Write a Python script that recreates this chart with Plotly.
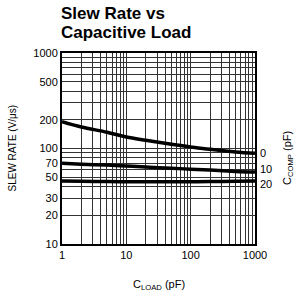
import math
import plotly.graph_objects as go

c_load = [1, 2, 5, 10, 20, 50, 100, 200, 500, 1000]
sr_c0 = [191, 168, 148, 132, 122, 111, 104, 98, 92, 89]
sr_c10 = [70, 68.5, 67, 65.5, 64, 62, 60.8, 59.5, 57.5, 56.6]
sr_c20 = [45.7, 45.3, 45, 44.8, 44.8, 44.8, 44.9, 45.1, 45.4, 45.7]
comp_labels = ["0", "10", "20"]
comp_label_pos = [89, 61, 43]
y_tick_vals = [10, 20, 30, 50, 70, 100, 200, 500, 1000]
x_tick_vals = [1, 10, 100, 1000]
title_lines = ["Slew Rate vs", "Capacitive Load"]

font = "Liberation Sans, Arial, sans-serif"

xgrid = [m * 10 ** d for d in range(3) for m in range(1, 10)] + [1000]
ygrid = [m * 10 ** d for d in range(1, 3) for m in range(1, 10)] + [1000]

fig = go.Figure()
for ys in (sr_c0, sr_c10, sr_c20):
    fig.add_trace(go.Scatter(x=c_load, y=ys, mode="lines",
                             line=dict(color="black", width=3.5, shape="spline"),
                             hoverinfo="skip", showlegend=False))

common = dict(type="log", showgrid=True, gridcolor="#333", gridwidth=1,
              showline=True, linecolor="black", linewidth=2, mirror=True,
              ticks="", tickfont=dict(family=font, size=11, color="black"),
              zeroline=False, automargin=False, fixedrange=True)
fig.update_xaxes(range=[0, 3], tickvals=xgrid,
                 ticktext=[str(v) if v in x_tick_vals else "" for v in xgrid], **common)
fig.update_yaxes(range=[1, 3], tickvals=ygrid,
                 ticktext=[str(v) if v in y_tick_vals else "" for v in ygrid], **common)

anns = [
    dict(x=0.5, y=0, xref="paper", yref="paper", yanchor="middle", yshift=-41,
         text="C<sub>LOAD</sub> (pF)",
         showarrow=False, font=dict(family=font, size=11, color="black")),
    dict(x=0, y=0.5, xref="paper", yref="paper", xanchor="center", xshift=-50,
         text="SLEW RATE (V/μs)",
         textangle=-90, showarrow=False, font=dict(family=font, size=10, color="black")),
    dict(x=1, y=0.45, xref="paper", yref="paper", xanchor="center", xshift=33,
         text="C<sub>COMP</sub> (pF)",
         textangle=-90, showarrow=False, font=dict(family=font, size=11, color="black")),
]
for line, shift in zip(title_lines, [39.5, 21]):
    anns.append(dict(x=0, y=1, xref="paper", yref="paper", xanchor="left",
                     yanchor="middle", xshift=-3, yshift=shift,
                     text="<b>" + line + "</b>", showarrow=False,
                     font=dict(family=font, size=17, color="black")))
for lab, yv in zip(comp_labels, comp_label_pos):
    anns.append(dict(x=1, y=math.log10(yv), xref="paper", yref="y",
                     text=lab, showarrow=False, xanchor="left", xshift=3,
                     font=dict(family=font, size=11, color="black")))

fig.update_layout(
    width=297, height=298,
    margin=dict(l=62, r=42, t=53, b=54),
    paper_bgcolor="white", plot_bgcolor="white",
    annotations=anns,
)
fig.write_html("out.html", config={"displayModeBar": False, "staticPlot": True},
               post_script="document.body.style.margin='0px';document.body.style.overflow='hidden';")
